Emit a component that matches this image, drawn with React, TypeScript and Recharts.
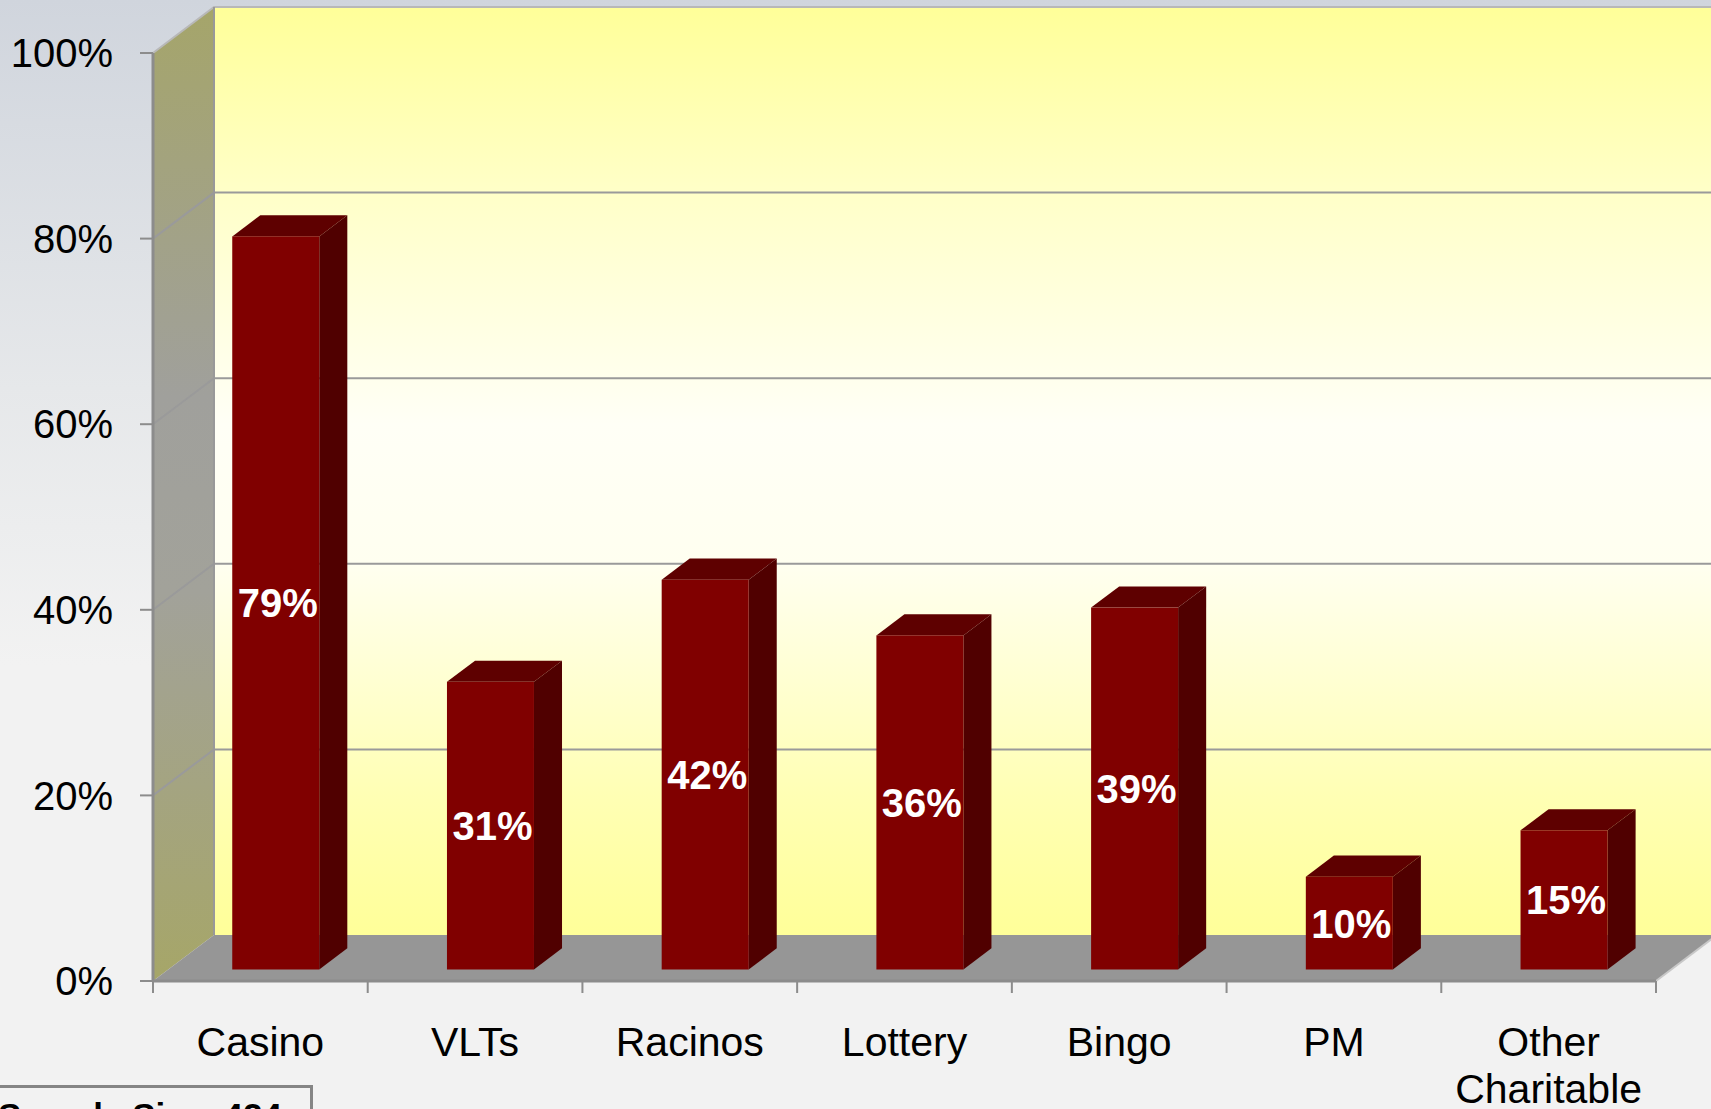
import { Bar, BarChart, LabelList, ReferenceArea, XAxis, YAxis } from "recharts";

const categories = ["Casino", "VLTs", "Racinos", "Lottery", "Bingo", "PM", "Other Charitable"];
const shares = [0.79, 0.31, 0.42, 0.36, 0.39, 0.1, 0.15];
const yTicks = [0, 0.2, 0.4, 0.6, 0.8, 1];
const sampleNote = "Sample Size: 424";

const data = categories.map((name, i) => ({ name, share: shares[i] }));

// 3D look: back wall offset, bar position and depth within it
const DX = 61;
const DY = -46;
const BAR_POS = 0.25;
const BAR_DEPTH = 0.46;
const FONT = "'Liberation Sans', Arial, sans-serif";

function Walls(props: any) {
  const { x, y, width, height } = props;
  const xR = x + width;
  const yB = y + height;
  const n = categories.length;
  return (
    <g>
      <defs>
        <linearGradient id="backWall" x1="0" y1="0" x2="0" y2="1">
          <stop offset="0" stopColor="#ffff99" />
          <stop offset="0.2" stopColor="#ffffc8" />
          <stop offset="0.45" stopColor="#fffff6" />
          <stop offset="0.6" stopColor="#fffff0" />
          <stop offset="0.85" stopColor="#ffffb4" />
          <stop offset="1" stopColor="#ffff99" />
        </linearGradient>
        <linearGradient id="sideWall" x1="0" y1="0" x2="0" y2="1">
          <stop offset="0" stopColor="#a5a56a" />
          <stop offset="0.4" stopColor="#a0a09c" />
          <stop offset="0.6" stopColor="#a2a29a" />
          <stop offset="1" stopColor="#a6a668" />
        </linearGradient>
      </defs>
      <rect x={x + DX} y={y + DY} width={width} height={height} fill="url(#backWall)" />
      <polygon
        points={`${x},${y} ${x + DX},${y + DY} ${x + DX},${yB + DY} ${x},${yB}`}
        fill="url(#sideWall)"
      />
      <polygon
        points={`${x},${yB} ${xR},${yB} ${xR + DX},${yB + DY} ${x + DX},${yB + DY}`}
        fill="#969696"
      />
      {yTicks.slice(1).map((t) => {
        const ty = yB - t * height;
        return (
          <polyline
            key={t}
            points={`${x},${ty} ${x + DX},${ty + DY} ${xR + DX},${ty + DY}`}
            fill="none"
            stroke={t === 1 ? "#b8b8b8" : "#9a9a9a"}
            strokeWidth={2}
          />
        );
      })}
      <line x1={x + DX} y1={y + DY} x2={x + DX} y2={yB + DY} stroke="#999" strokeWidth={2} />
      <line x1={xR} y1={yB} x2={xR + DX} y2={yB + DY} stroke="#c8c8c8" strokeWidth={2} />
      {categories.concat("").map((_, i) => {
        const tx = x + (i * width) / n;
        return <line key={i} x1={tx} y1={yB} x2={tx} y2={yB + 12} stroke="#8c8c8c" strokeWidth={2} />;
      })}
    </g>
  );
}

function Bar3D(props: any) {
  const { x, y, width, height } = props;
  if (!height) return null;
  const fx = x + BAR_POS * DX;
  const fy = y + BAR_POS * DY;
  const ddx = BAR_DEPTH * DX;
  const ddy = BAR_DEPTH * DY;
  return (
    <g>
      <polygon
        points={`${fx},${fy} ${fx + ddx},${fy + ddy} ${fx + width + ddx},${fy + ddy} ${fx + width},${fy}`}
        fill="#5e0000"
      />
      <polygon
        points={`${fx + width},${fy} ${fx + width + ddx},${fy + ddy} ${fx + width + ddx},${fy + height + ddy} ${fx + width},${fy + height}`}
        fill="#500000"
      />
      <rect x={fx} y={fy} width={width} height={height} fill="#800000" />
    </g>
  );
}

function BarLabel(props: any) {
  const { x, y, width, height, value } = props;
  const cx = x + BAR_POS * DX + width / 2 + 2;
  const cy = y + BAR_POS * DY + height / 2;
  return (
    <text
      x={cx}
      y={cy}
      dy="0.36em"
      textAnchor="middle"
      fill="#ffffff"
      fontFamily={FONT}
      fontWeight="bold"
      fontSize={40}
    >
      {`${Math.round(value * 100)}%`}
    </text>
  );
}

function CategoryTick(props: any) {
  const { x, y, payload } = props;
  const label: string = payload.value;
  // long labels go one word per line
  const lines = label.length > 9 ? label.split(" ") : [label];
  return (
    <text x={x} y={y} textAnchor="middle" fontFamily={FONT} fontSize={41} fill="#000">
      {lines.map((line, i) => (
        <tspan key={i} x={x} dy={i === 0 ? 30 : 47}>
          {line}
        </tspan>
      ))}
    </text>
  );
}

export default function App() {
  return (
    <div
      style={{
        position: "fixed",
        left: 0,
        top: 0,
        width: 1711,
        height: 1109,
        overflow: "hidden",
        background: "linear-gradient(180deg, #d0d5dd 0%, #e6e8ea 35%, #f2f2f2 60%, #f2f2f2 100%)",
      }}
    >
      <BarChart
        width={1780}
        height={1109}
        data={data}
        margin={{ top: 53, right: 124, left: 0, bottom: 0 }}
        barSize={87}
      >
        <XAxis
          dataKey="name"
          height={128}
          tickSize={0}
          tickMargin={45}
          tickLine={false}
          axisLine={{ stroke: "#8c8c8c", strokeWidth: 3 }}
          tick={<CategoryTick />}
          interval={0}
        />
        <YAxis
          width={153}
          domain={[0, 1]}
          ticks={yTicks}
          tickFormatter={(v: number) => `${Math.round(v * 100)}%`}
          tickSize={13}
          tickMargin={27}
          tickLine={{ stroke: "#8c8c8c", strokeWidth: 2 }}
          axisLine={{ stroke: "#8c8c8c", strokeWidth: 3 }}
          tick={{ fill: "#000", fontSize: 40, fontFamily: FONT }}
        />
        <ReferenceArea y1={0} y2={1} ifOverflow="visible" shape={Walls} />
        <Bar dataKey="share" shape={Bar3D} isAnimationActive={false}>
          <LabelList dataKey="share" content={BarLabel} />
        </Bar>
      </BarChart>
      <div
        style={{
          position: "absolute",
          left: -60,
          top: 1085,
          width: 373,
          height: 60,
          border: "3px solid #858585",
          boxSizing: "border-box",
          paddingTop: 10,
          paddingRight: 28,
          textAlign: "right",
          fontFamily: FONT,
          fontWeight: "bold",
          fontSize: 35,
          lineHeight: "35px",
          color: "#000",
          whiteSpace: "nowrap",
        }}
      >
        {sampleNote}
      </div>
    </div>
  );
}
